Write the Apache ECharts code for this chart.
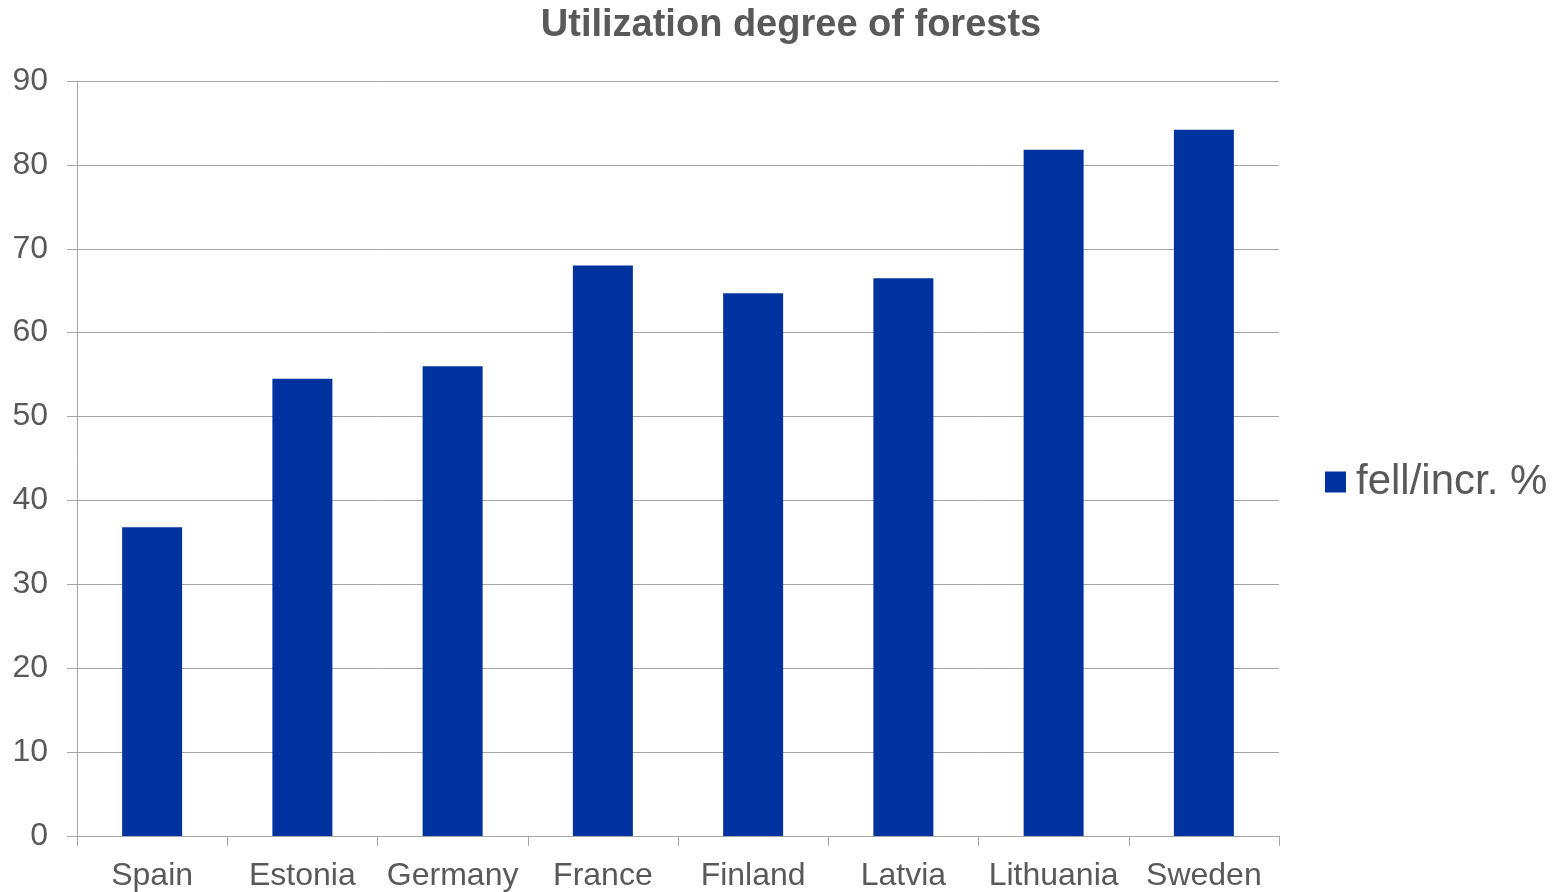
<!DOCTYPE html>
<html>
<head>
<meta charset="utf-8">
<style>
  html, body { margin: 0; padding: 0; background: #fff; }
  #chart { width: 1562px; height: 892px; }
</style>
<script src="https://cdn.jsdelivr.net/npm/echarts@6/dist/echarts.min.js"></script>
</head>
<body>
<div id="chart"></div>
<script>
// Felling as a share of annual increment, by country
const countries = ['Spain', 'Estonia', 'Germany', 'France', 'Finland', 'Latvia', 'Lithuania', 'Sweden'];
const fellIncr = [36.8, 54.5, 56.0, 68.0, 64.7, 66.5, 81.8, 84.2];
const seriesName = 'fell/incr. %';
const titleText = 'Utilization degree of forests';

const textColor = '#595959';
const gridColor = '#a6a6a6';
const barColor = '#0033A0';
const fontFamily = 'Liberation Sans, Arial, sans-serif';

const chart = echarts.init(document.getElementById('chart'));
chart.setOption({
  animation: false,
  backgroundColor: '#ffffff',
  title: {
    text: titleText,
    left: 786,
    textAlign: 'center',
    top: 2,
    textStyle: { color: textColor, fontFamily, fontSize: 38, fontWeight: 'bold' }
  },
  legend: {
    data: [seriesName],
    orient: 'vertical',
    left: 1320,
    top: 456,
    icon: 'rect',
    itemWidth: 21,
    itemHeight: 21,
    itemGap: 10,
    textStyle: { color: textColor, fontFamily, fontSize: 42, padding: [0, 0, 0, 5] }
  },
  grid: { left: 77, right: 283, top: 81, bottom: 55, containLabel: false },
  xAxis: {
    type: 'category',
    data: countries,
    axisLine: { show: true, lineStyle: { color: gridColor, width: 1 } },
    axisTick: { show: true, length: 10, alignWithLabel: false, lineStyle: { color: gridColor } },
    axisLabel: { color: textColor, fontFamily, fontSize: 32, margin: 24, interval: 0 },
    splitLine: { show: false }
  },
  yAxis: {
    type: 'value',
    min: 0,
    max: 90,
    interval: 10,
    axisLine: { show: true, lineStyle: { color: gridColor, width: 1 } },
    axisTick: { show: true, length: 10, lineStyle: { color: gridColor } },
    axisLabel: { color: textColor, fontFamily, fontSize: 32, margin: 29 },
    splitLine: { show: true, lineStyle: { color: gridColor, width: 1 } }
  },
  series: [{
    name: seriesName,
    type: 'bar',
    data: fellIncr,
    barWidth: 60,
    itemStyle: { color: barColor }
  }]
});
</script>
</body>
</html>
